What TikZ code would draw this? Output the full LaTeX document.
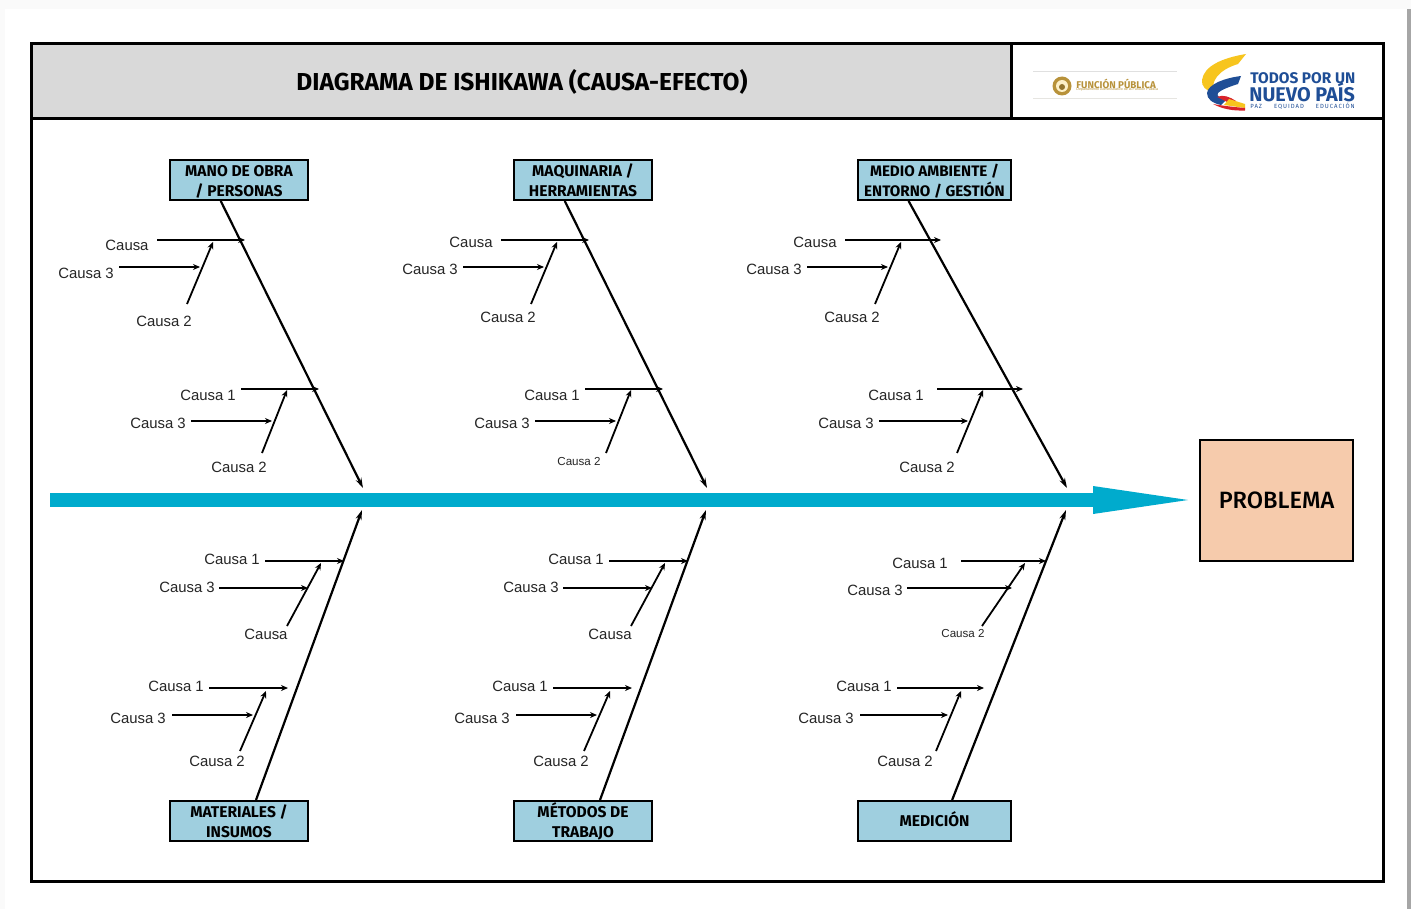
\documentclass[tikz,border=0pt]{standalone}
\usepackage{fontspec}
\usetikzlibrary{arrows.meta,positioning}
\setmainfont{Liberation Sans}
\newfontfamily\dinfont{Fira Sans}
\newfontfamily\dinmedium{Fira Sans Medium}

\definecolor{bandgray}{HTML}{D9D9D9}
\definecolor{catblue}{HTML}{9FCFDF}
\definecolor{axisblue}{HTML}{00ABCD}
\definecolor{problemfill}{HTML}{F6CBAC}
\definecolor{logoblue}{HTML}{1F4E96}
\definecolor{logoyellow}{HTML}{F7C51E}
\definecolor{logored}{HTML}{D8232A}
\definecolor{logotan}{HTML}{B8923A}

\begin{document}
\begin{tikzpicture}[
    x=0.5pt, y=-0.5pt,
    frame/.style={draw=black, line width=1.5pt},
    category/.style={rectangle, draw=black, line width=1pt, fill=catblue, minimum height=20pt, inner sep=0pt, align=center, text height=16.5pt, text depth=0pt, font=\dinfont\bfseries\fontsize{7.8}{10}\selectfont},
    causa/.style={inner sep=0pt, font=\fontsize{7.45}{9}\selectfont, text=black!85},
    causasmall/.style={inner sep=0pt, font=\fontsize{5.8}{7}\selectfont, text=black!85},
    spine/.style={line width=1.1pt, -{Stealth[length=5pt,width=3pt]}},
    rib/.style={line width=0.9pt, -{Stealth[length=3.5pt,width=3pt]}}
]
\useasboundingbox (0,0) rectangle (1411,909);

% Page
\fill[black!2] (0,0) rectangle (1411,909);
\fill[white] (5,9) rectangle (1407,909);
\fill[black!35] (1407,9) rectangle (1411,909);

% Frame and title band
\fill[bandgray] (31,44) rectangle (1011,119);
\draw[frame] (31,44) rectangle (1383,881);
\draw[frame] (31,119) -- (1383,119);
\draw[frame] (1011,44) -- (1011,119);
\node[font=\dinfont\bfseries\fontsize{12.25}{14}\selectfont] (title) at (522,82) {DIAGRAMA DE ISHIKAWA (CAUSA-EFECTO)};

% Left logo
\draw[black!12, line width=0.5pt] (1033,72) -- (1177,72);
\draw[logoyellow!20!black!12, line width=0.5pt] (1033,99) -- (1177,99);
\fill[logotan] (1062,86) circle (9.5);
\fill[white!75!logoyellow] (1062,86) circle (6);
\fill[logotan!80!black] (1062,87) circle (3);
\node[inner sep=0pt, anchor=west, text=logotan, font=\dinfont\bfseries\fontsize{4.9}{5}\selectfont] (fp) at (1076,84) {FUNCIÓN PÚBLICA};
\node[inner sep=0pt, anchor=west, text=logotan, font=\fontsize{1.8}{2}\selectfont] (fpsub) at (1076,90) {Departamento Administrativo de la Función Pública};

% Right logo
\fill[logoyellow] (1246,54) .. controls (1222,58) and (1204,66) .. (1202,80) .. controls (1201,86) and (1206,91) .. (1214,93) .. controls (1210,82) and (1218,70) .. (1238,64) -- cycle;
\fill[logoblue] (1241,76) .. controls (1225,78) and (1208,84) .. (1207,93) .. controls (1207,99) and (1212,103) .. (1221,105) -- (1226,100) .. controls (1220,98) and (1216,96) .. (1218,93) .. controls (1222,89) and (1232,86) .. (1238,84) -- cycle;
\fill[logored] (1217,97) .. controls (1223,94) and (1230,97) .. (1236,101) -- (1229,103) -- cycle;
\fill[logoyellow] (1229,99) -- (1245,104) -- (1245,108) -- (1224,105) -- cycle;
\fill[logored] (1213,104) .. controls (1224,106) and (1234,107) .. (1245,108) -- (1245,110.5) .. controls (1233,111) and (1222,109) .. (1213,104) -- cycle;
\node[inner sep=0pt, anchor=west, text=logoblue, font=\dinfont\bfseries\fontsize{7.7}{9}\selectfont] (todos) at (1250,78) {TODOS POR UN};
\node[inner sep=0pt, anchor=west, text=logoblue, font=\dinfont\bfseries\fontsize{9.9}{11}\selectfont] (nuevo) at (1249,92.5) {NUEVO PAÍS};
\node[inner sep=0pt, anchor=west, text=logoblue, font=\dinfont\addfontfeatures{LetterSpace=16}\fontsize{3}{3}\selectfont] (paz) at (1250,106.5) {PAZ\hspace{6pt}EQUIDAD\hspace{6pt}EDUCACIÓN};

% Categories
\node[category, minimum width=69pt] (mano) at (239,180) {MANO DE OBRA\\/ PERSONAS};
\node[category, minimum width=69pt] (maquinaria) at (583,180) {MAQUINARIA /\\HERRAMIENTAS};
\node[category, minimum width=76.5pt, font=\dinfont\bfseries\fontsize{7.6}{10}\selectfont] (medio) at (934.5,180) {MEDIO AMBIENTE /\\ENTORNO / GESTIÓN};
\node[category, minimum width=69pt] (materiales) at (239,821) {MATERIALES /\\INSUMOS};
\node[category, minimum width=69pt] (metodos) at (583,821) {MÉTODOS DE\\TRABAJO};
\node[category, minimum width=76.5pt, text height=5.5pt, text depth=0pt] (medicion) at (934.5,821) {MEDICIÓN};

% Problem
\node[rectangle, draw=black, line width=1pt, fill=problemfill, minimum width=76.5pt, minimum height=60.5pt, font=\dinmedium\fontsize{11.8}{14}\selectfont] (problema) at (1276.5,500.5) {PROBLEMA};

% Main axis
\coordinate (axis) at (50,500);
\draw[axisblue, line width=7pt, shorten >=5.5pt, -{Triangle[length=47.5pt,width=14pt,line width=0pt]}] (axis) -- (problema.west |- axis);

% Spines
\coordinate (s1) at (363,488);
\coordinate (s2) at (707,488);
\coordinate (s3) at (1067,488);
\coordinate (s4) at (362,510);
\coordinate (s5) at (706,510);
\coordinate (s6) at (1066,510);
\draw[spine] (mano.229) -- (s1);
\draw[spine] (maquinaria.229) -- (s2);
\draw[spine] (medio.219.5) -- (s3);
\draw[spine] (materiales.51) -- (s4);
\draw[spine] (metodos.51) -- (s5);
\draw[spine] (medicion.50.5) -- (s6);

% Mano de obra
\node[causa] (a1) at (127,245) {Causa};
\coordinate (a1s) at (157,240); \coordinate (a1e) at (245,240);
\draw[rib] (a1s) -- (a1e);
\node[causa] (a2) at (86,273) {Causa 3};
\coordinate (a2s) at (119,267); \coordinate (a2e) at (200,267);
\draw[rib] (a2s) -- (a2e);
\node[causa] (a3) at (164,321) {Causa 2};
\coordinate (a3s) at (187,304); \coordinate (a3e) at (213,242);
\draw[rib] (a3s) -- (a3e);
\node[causa] (a4) at (208,395) {Causa 1};
\coordinate (a4s) at (241,389); \coordinate (a4e) at (319,389);
\draw[rib] (a4s) -- (a4e);
\node[causa] (a5) at (158,423) {Causa 3};
\coordinate (a5s) at (191,421); \coordinate (a5e) at (272,421);
\draw[rib] (a5s) -- (a5e);
\node[causa] (a6) at (239,467) {Causa 2};
\coordinate (a6s) at (262,453); \coordinate (a6e) at (287,390);
\draw[rib] (a6s) -- (a6e);

% Maquinaria
\node[causa] (b1) at (471,242) {Causa};
\coordinate (b1s) at (501,240); \coordinate (b1e) at (589,240);
\draw[rib] (b1s) -- (b1e);
\node[causa] (b2) at (430,269) {Causa 3};
\coordinate (b2s) at (463,267); \coordinate (b2e) at (544,267);
\draw[rib] (b2s) -- (b2e);
\node[causa] (b3) at (508,317) {Causa 2};
\coordinate (b3s) at (531,304); \coordinate (b3e) at (557,242);
\draw[rib] (b3s) -- (b3e);
\node[causa] (b4) at (552,395) {Causa 1};
\coordinate (b4s) at (585,389); \coordinate (b4e) at (663,389);
\draw[rib] (b4s) -- (b4e);
\node[causa] (b5) at (502,423) {Causa 3};
\coordinate (b5s) at (535,421); \coordinate (b5e) at (616,421);
\draw[rib] (b5s) -- (b5e);
\node[causasmall] (b6) at (579,462) {Causa 2};
\coordinate (b6s) at (606,453); \coordinate (b6e) at (631,390);
\draw[rib] (b6s) -- (b6e);

% Medio ambiente
\node[causa] (c1) at (815,242) {Causa};
\coordinate (c1s) at (845,240); \coordinate (c1e) at (941,240);
\draw[rib] (c1s) -- (c1e);
\node[causa] (c2) at (774,269) {Causa 3};
\coordinate (c2s) at (807,267); \coordinate (c2e) at (888,267);
\draw[rib] (c2s) -- (c2e);
\node[causa] (c3) at (852,317) {Causa 2};
\coordinate (c3s) at (875,304); \coordinate (c3e) at (901,242);
\draw[rib] (c3s) -- (c3e);
\node[causa] (c4) at (896,395) {Causa 1};
\coordinate (c4s) at (937,389); \coordinate (c4e) at (1023,389);
\draw[rib] (c4s) -- (c4e);
\node[causa] (c5) at (846,423) {Causa 3};
\coordinate (c5s) at (879,421); \coordinate (c5e) at (968,421);
\draw[rib] (c5s) -- (c5e);
\node[causa] (c6) at (927,467) {Causa 2};
\coordinate (c6s) at (957,453); \coordinate (c6e) at (983,390);
\draw[rib] (c6s) -- (c6e);

% Materiales
\node[causa] (d1) at (232,559) {Causa 1};
\coordinate (d1s) at (265,561); \coordinate (d1e) at (344,561);
\draw[rib] (d1s) -- (d1e);
\node[causa] (d2) at (187,587) {Causa 3};
\coordinate (d2s) at (219,588); \coordinate (d2e) at (308,588);
\draw[rib] (d2s) -- (d2e);
\node[causa] (d3) at (266,634) {Causa};
\coordinate (d3s) at (287,626); \coordinate (d3e) at (321,563);
\draw[rib] (d3s) -- (d3e);
\node[causa] (d4) at (176,686) {Causa 1};
\coordinate (d4s) at (209,688); \coordinate (d4e) at (288,688);
\draw[rib] (d4s) -- (d4e);
\node[causa] (d5) at (138,718) {Causa 3};
\coordinate (d5s) at (172,715); \coordinate (d5e) at (253,715);
\draw[rib] (d5s) -- (d5e);
\node[causa] (d6) at (217,761) {Causa 2};
\coordinate (d6s) at (240,751); \coordinate (d6e) at (266,691);
\draw[rib] (d6s) -- (d6e);

% Metodos
\node[causa] (e1) at (576,559) {Causa 1};
\coordinate (e1s) at (609,561); \coordinate (e1e) at (688,561);
\draw[rib] (e1s) -- (e1e);
\node[causa] (e2) at (531,587) {Causa 3};
\coordinate (e2s) at (563,588); \coordinate (e2e) at (652,588);
\draw[rib] (e2s) -- (e2e);
\node[causa] (e3) at (610,634) {Causa};
\coordinate (e3s) at (631,626); \coordinate (e3e) at (665,563);
\draw[rib] (e3s) -- (e3e);
\node[causa] (e4) at (520,686) {Causa 1};
\coordinate (e4s) at (553,688); \coordinate (e4e) at (632,688);
\draw[rib] (e4s) -- (e4e);
\node[causa] (e5) at (482,718) {Causa 3};
\coordinate (e5s) at (516,715); \coordinate (e5e) at (597,715);
\draw[rib] (e5s) -- (e5e);
\node[causa] (e6) at (561,761) {Causa 2};
\coordinate (e6s) at (584,751); \coordinate (e6e) at (610,691);
\draw[rib] (e6s) -- (e6e);

% Medicion
\node[causa] (f1) at (920,563) {Causa 1};
\coordinate (f1s) at (961,561); \coordinate (f1e) at (1046,561);
\draw[rib] (f1s) -- (f1e);
\node[causa] (f2) at (875,590) {Causa 3};
\coordinate (f2s) at (907,588); \coordinate (f2e) at (1012,588);
\draw[rib] (f2s) -- (f2e);
\node[causasmall] (f3) at (963,633) {Causa 2};
\coordinate (f3s) at (982,626); \coordinate (f3e) at (1025,563);
\draw[rib] (f3s) -- (f3e);
\node[causa] (f4) at (864,686) {Causa 1};
\coordinate (f4s) at (897,688); \coordinate (f4e) at (984,688);
\draw[rib] (f4s) -- (f4e);
\node[causa] (f5) at (826,718) {Causa 3};
\coordinate (f5s) at (860,715); \coordinate (f5e) at (948,715);
\draw[rib] (f5s) -- (f5e);
\node[causa] (f6) at (905,761) {Causa 2};
\coordinate (f6s) at (936,751); \coordinate (f6e) at (961,691);
\draw[rib] (f6s) -- (f6e);

\end{tikzpicture}
\end{document}
